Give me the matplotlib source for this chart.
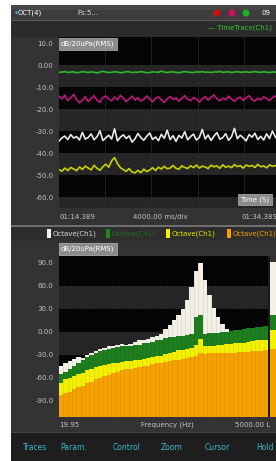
import numpy as np
import matplotlib
matplotlib.use("Agg")
import matplotlib.pyplot as plt
from matplotlib.patches import Rectangle, Circle

# ---------------- data ----------------
upper_yticks = [10, 0, -10, -20, -30, -40, -50, -60]
upper_ylabels = ["10.0", "0.00", "-10.0", "-20.0", "-30.0", "-40.0", "-50.0", "-60.0"]
lower_yticks = [90, 60, 30, 0, -30, -60, -90]
lower_ylabels = ["90.0", "60.0", "30.0", "0.00", "-30.0", "-60.0", "-90.0"]
time_start_label = "01:14.389"
time_div_label = "4000.00 ms/div"
time_end_label = "01:34.389"
freq_start_label = "19.95"
freq_end_label = "5000.00 L"
buttons = ["Traces", "Param.", "Control", "Zoom", "Cursor", "Hold"]

trace_green = [-3.1,-3.0,-2.8,-3.2,-3.0,-2.9,-3.3,-3.1,-2.8,-3.0,-3.2,-2.9,-3.1,-3.4,-3.0,-2.7,
               -3.0,-3.2,-3.1,-2.9,-3.0,-3.3,-3.1,-2.8,-2.9,-3.2,-3.0,-3.1,-2.8,-3.0,-3.3,-3.2,
               -2.9,-3.0,-3.1,-2.6,-3.0,-3.2,-3.0,-2.9,-3.1,-3.3,-3.0,-2.8,-3.0,-3.1,-3.2,-2.9,
               -3.0,-2.8,-3.1,-3.0,-3.2,-2.9,-3.0,-2.7,-3.1,-3.0,-2.9,-3.2,-3.0,-2.8,-3.1,-3.0,
               -2.9,-3.1,-3.0,-2.8,-3.0,-3.1,-2.9,-3.0,-3.2,-2.9,-3.1,-3.0,-2.8,-3.0,-3.1,-2.9]
trace_magenta = [-14.0,-15.2,-13.5,-16.0,-14.8,-13.2,-15.5,-17.0,-15.8,-14.2,-16.4,-15.0,-13.8,-15.9,-16.8,-14.6,
                 -13.9,-15.3,-16.1,-14.4,-15.7,-13.6,-14.9,-16.5,-15.2,-14.0,-15.8,-14.7,-16.2,-15.4,-13.9,-15.1,
                 -16.6,-15.0,-14.3,-15.6,-16.9,-15.2,-14.1,-15.5,-14.8,-16.3,-15.0,-13.7,-15.4,-16.0,-14.6,-15.3,
                 -16.7,-15.1,-14.2,-15.8,-14.5,-13.4,-15.2,-16.1,-14.9,-15.6,-14.0,-15.3,-16.4,-15.0,-14.4,-15.9,
                 -14.7,-13.8,-15.5,-16.2,-14.9,-15.7,-14.3,-15.1,-16.0,-14.6,-13.9,-15.4,-16.3,-15.0,-14.5,-15.2]
trace_white = [-34.5,-33.0,-32.2,-33.8,-31.5,-33.1,-32.4,-34.0,-30.5,-33.6,-32.8,-31.2,-33.9,-32.5,-29.8,-34.2,
               -33.0,-31.8,-33.5,-28.9,-34.4,-32.7,-31.6,-33.3,-32.1,-35.0,-33.4,-31.0,-32.9,-34.1,-32.3,-30.8,
               -33.7,-32.6,-34.3,-31.4,-33.2,-29.5,-33.8,-32.0,-34.6,-31.9,-33.1,-30.2,-33.9,-32.4,-31.3,-34.0,
               -32.8,-29.2,-33.5,-31.7,-34.2,-32.2,-30.6,-33.6,-32.9,-31.1,-34.1,-32.5,-28.7,-33.4,-31.8,-33.0,
               -34.4,-31.5,-32.7,-30.9,-33.8,-32.3,-34.0,-31.2,-33.3,-29.9,-32.6,-33.9,-31.6,-32.4,-30.4,-33.1]
trace_yellow = [-47.5,-48.2,-46.8,-47.9,-46.5,-47.2,-48.0,-46.3,-47.4,-45.9,-46.8,-47.6,-45.5,-46.9,-47.8,-46.2,
                -45.0,-46.4,-43.5,-42.0,-44.8,-46.6,-47.5,-48.3,-47.0,-48.6,-49.0,-47.8,-48.9,-47.3,-48.4,-47.7,
                -46.6,-47.9,-46.4,-47.2,-46.0,-47.1,-46.8,-45.6,-46.9,-47.3,-45.8,-46.5,-47.0,-45.7,-46.6,-45.4,
                -46.8,-45.9,-46.3,-47.0,-45.5,-46.2,-45.8,-46.9,-45.3,-46.4,-45.9,-46.6,-45.2,-46.1,-45.7,-46.8,
                -45.4,-46.0,-45.6,-46.5,-45.1,-46.2,-45.8,-46.7,-45.3,-46.0,-45.6,-46.4,-45.2,-45.9,-46.3,-45.5]

oct_white = [-45,-40,-38,-35,-33,-34,-30,-27,-25,-22,-21,-19,-18,-17,-16,-17,
             -16,-13,-11,-10,-9,-7,-5,-3,4,9,15,22,30,42,58,80,
             90,68,48,31,19,10,4,1,2,3,4,5,5,6,7,8]
oct_green = [-55,-52,-48,-44,-40,-37,-33,-30,-27,-25,-24,-22,-21,-20,-19,-19,
             -18,-17,-17,-15,-14,-13,-11,-10,-8,-7,-6,-5,-5,-4,-3,20,
             22,-3,-2,-2,-1,0,0,1,2,3,4,5,5,6,7,8]
oct_yellow = [-66,-62,-60,-57,-55,-53,-50,-48,-46,-44,-43,-42,-41,-40,-39,-38,
              -38,-37,-36,-35,-34,-33,-32,-31,-29,-27,-26,-24,-23,-22,-21,-17,
              -9,-19,-18,-18,-17,-17,-16,-16,-15,-15,-14,-13,-12,-11,-11,-10]
oct_orange = [-82,-80,-78,-75,-72,-70,-67,-65,-62,-60,-58,-56,-54,-52,-50,-49,
              -48,-47,-46,-45,-44,-42,-41,-40,-39,-38,-37,-36,-35,-34,-33,-31,
              -27,-29,-28,-28,-28,-27,-27,-27,-27,-26,-26,-26,-25,-25,-25,-24]
overall = {"white": 91, "green": 22, "yellow": 2, "orange": -22}

# ---------------- layout helpers ----------------
W, H = 276, 461
fig = plt.figure(figsize=(W / 100, H / 100), dpi=100)
fig.patch.set_facecolor("white")

def px_axes(x0, y0, x1, y1, **kw):
    return fig.add_axes([x0 / W, 1 - y1 / H, (x1 - x0) / W, (y1 - y0) / H], **kw)

bg = fig.add_axes([0, 0, 1, 1], zorder=0)
bg.set_xlim(0, W)
bg.set_ylim(H, 0)
bg.axis("off")

def rect(x0, y0, x1, y1, color, z=0, ax=None):
    (ax or bg).add_patch(Rectangle((x0, y0), x1 - x0, y1 - y0, facecolor=color, edgecolor="none", zorder=z))

FS = 5
TXT = "#c4c4c4"
BOX = dict(boxstyle="square,pad=0.35", facecolor="#8c8c8c", edgecolor="#b4b4b4", lw=0.5)
# device frame
rect(11, 5, W, H, "#333333")
rect(11, 5, W, 20, "#3d3d3d")
rect(11, 5, W, 10, "#474747")
rect(11, 20, W, 21, "#5a5a5a")
rect(11, 21, W, 37, "#2b2b2b")
rect(11, 225, W, 226.5, "#6e6e6e")
rect(11, 226.5, W, 241, "#2e2e2e")
rect(11, 432, W, H, "#1e1e1e")
rect(11, 432, W, 433, "#444444")
rect(268, 256, 270, 417, "#1a1a1a")

# title bar
bg.text(14, 13, "\u2022", color="#4aa8e0", fontsize=6, va="center", ha="left")
bg.text(18, 13, "OCT(4)", color="white", fontsize=FS, va="center", ha="left")
bg.text(77, 13, "Fs:5...", color="#dddddd", fontsize=FS, va="center", ha="left")
for cx, col in [(217, "#d01010"), (232, "#d0105a"), (246, "#20b020")]:
    bg.add_patch(Circle((cx, 13), 3.5, facecolor=col, edgecolor="none", zorder=2))
bg.text(262, 13, "09", color="white", fontsize=FS, va="center", ha="left")
bg.text(272, 28, "\u2014 TimeTrace(Ch1)", color="#2ec82e", fontsize=FS, va="center", ha="right")

# ---------------- upper (time trace) panel ----------------
ax1 = px_axes(59, 37, 290, 208, zorder=1)
ax1.set_facecolor("#050505")
ax1.set_xlim(0, 20)
ax1.set_ylim(-65, 13)
for lo, hi in [(-10, 0), (-30, -20), (-50, -40), (-70, -60)]:
    ax1.axhspan(lo, hi, color="#262626", lw=0, zorder=0)
for xv in [4, 8, 12, 16]:
    ax1.axvline(xv, color="#2c2c2c", lw=0.5, zorder=0.5)
t = np.linspace(0, 20, len(trace_green))
ax1.plot(t, trace_green, color="#2db82d", lw=1.2)
ax1.plot(t, trace_magenta, color="#c01880", lw=1.2)
ax1.plot(t, trace_white, color="#e8e8e8", lw=1.2)
ax1.plot(t, trace_yellow, color="#c8d200", lw=1.2)
ax1.set_yticks(upper_yticks)
ax1.set_yticklabels(upper_ylabels)
ax1.set_xticks([])
ax1.tick_params(axis="y", length=0, pad=4, labelsize=FS, labelcolor=TXT)
for s in ax1.spines.values():
    s.set_visible(False)

bg.text(59, 217, time_start_label, color=TXT, fontsize=FS, va="center", ha="left")
bg.text(160, 217, time_div_label, color=TXT, fontsize=FS, va="center", ha="center")
bg.text(241, 217, time_end_label, color=TXT, fontsize=FS, va="center", ha="left")

# legend row
legend_items = [(47, "#f2f2f2", "#d8d8d8"), (106, "#1e8a1e", "#1e6e1e"),
                (166, "#f0f000", "#e6e600"), (227, "#f5a000", "#f0a000")]
for lx, sw, tc in legend_items:
    rect(lx, 229, lx + 4, 238, sw, z=2)
    bg.text(lx + 6, 233.5, "Octave(Ch1)", color=tc, fontsize=FS, va="center", ha="left", zorder=3)

# ---------------- lower (octave) panel ----------------
ax2 = px_axes(59, 256, 268, 417, zorder=1)
ax2.set_facecolor("#050505")
ax2.set_ylim(-111, 99)
ax2.set_xlim(-0.5, len(oct_white) - 0.5)
for lo, hi in [(30, 60), (-30, 0), (-90, -60)]:
    ax2.axhspan(lo, hi, color="#262626", lw=0, zorder=0)
xi = np.arange(len(oct_white))
bottom = -111
for vals, col in [(oct_white, "#f3f0e6"), (oct_green, "#1e7e1e"),
                  (oct_yellow, "#f2f000"), (oct_orange, "#f5a200")]:
    v = np.array(vals, dtype=float)
    ax2.bar(xi, v - bottom, bottom=bottom, width=1.08, color=col, linewidth=0, zorder=2)
ax2.vlines(xi[1:] - 0.5, -111, 99, colors=(0, 0, 0, 0.12), linewidth=0.4, zorder=3)
ax2.set_yticks(lower_yticks)
ax2.set_yticklabels(lower_ylabels)
ax2.set_xticks([])
ax2.tick_params(axis="y", length=0, pad=4, labelsize=FS, labelcolor=TXT)
for s in ax2.spines.values():
    s.set_visible(False)

# overall bar
ax3 = px_axes(270, 256, 292, 417, zorder=1)
ax3.set_facecolor("#050505")
ax3.set_ylim(-111, 99)
ax3.set_xlim(-0.5, 0.5)
for key, col in [("white", "#f3f0e6"), ("green", "#1e7e1e"), ("yellow", "#f2f000"), ("orange", "#f5a200")]:
    ax3.bar([0], [overall[key] - bottom], bottom=bottom, width=1.0, color=col, linewidth=0)
ax3.axis("off")

bg.text(59, 425, freq_start_label, color=TXT, fontsize=FS, va="center", ha="left")
bg.text(167, 425, "Frequency (Hz)", color=TXT, fontsize=FS, va="center", ha="center")
bg.text(235, 425, freq_end_label, color=TXT, fontsize=FS, va="center", ha="left")

# toolbar
for cx, name in zip([35, 74, 127, 172, 217, 265], buttons):
    bg.text(cx, 447, name, color="#38b8c8", fontsize=5.5, va="center", ha="center")

# overlay for labels drawn on top of plots
fg = fig.add_axes([0, 0, 1, 1], zorder=5)
fg.set_xlim(0, W)
fg.set_ylim(H, 0)
fg.axis("off")
fg.patch.set_alpha(0)
fg.text(61, 44, "dB/20uPa(RMS)", color="white", fontsize=FS, va="center", ha="left", bbox=BOX)
fg.text(61, 249, "dB/20uPa(RMS)", color="white", fontsize=FS, va="center", ha="left", bbox=BOX)
fg.text(240, 199.5, "Time (S)", color="white", fontsize=FS, va="center", ha="left", bbox=BOX)

fig.savefig("out.png", dpi=100)
